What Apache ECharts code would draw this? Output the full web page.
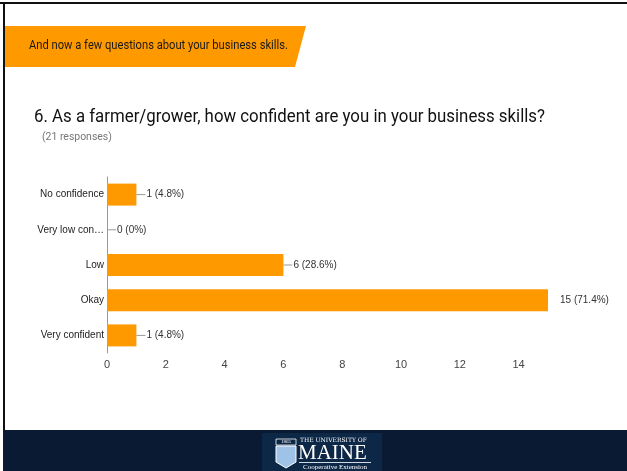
<!DOCTYPE html>
<html><head><meta charset="utf-8">
<script src="https://cdn.jsdelivr.net/npm/echarts@6/dist/echarts.min.js"></script>
<style>html,body{margin:0;padding:0;background:#fff}#c{width:627px;height:471px}</style>
</head><body><div id="c"></div>
<script>
var categories = ['No confidence', 'Very low confidence', 'Low', 'Okay', 'Very confident'];
var counts = [1, 0, 6, 15, 1];
var percents = ['4.8%', '0%', '28.6%', '71.4%', '4.8%'];
var xTicks = [0, 2, 4, 6, 8, 10, 12, 14];
var bannerText = 'And now a few questions about your business skills.';
var titleText = '6. As a farmer/grower, how confident are you in your business skills?';
var subText = '(21 responses)';

var chart = echarts.init(document.getElementById('c'), null, {renderer: 'canvas'});
var maxCount = Math.max.apply(null, counts);
var seriesData = counts.map(function (v, i) {
  var item = {value: v};
  if (v === maxCount) {
    item.label = {distance: 11, formatter: function (p) { return '{t|' + p.value + ' (' + percents[p.dataIndex] + ')}'; }};
  }
  return item;
});
var option = {
  animation: false,
  grid: {left: 107, right: 79, top: 177, bottom: 118, containLabel: false},
  xAxis: {
    type: 'value', min: 0, max: 15, interval: 2,
    axisLine: {show: false}, axisTick: {show: false}, splitLine: {show: false},
    axisLabel: {showMaxLabel: false, color: '#444', fontSize: 11, fontFamily: 'Liberation Sans', margin: 6}
  },
  yAxis: {
    type: 'category', data: categories, inverse: true,
    axisLine: {show: true, lineStyle: {color: '#999', width: 1}},
    axisTick: {show: false},
    axisLabel: {color: '#222', fontSize: 10, fontFamily: 'Liberation Sans', margin: 3, width: 69, overflow: 'truncate', ellipsis: '…'}
  },
  series: [{
    type: 'bar', data: seriesData, barWidth: 22,
    itemStyle: {color: '#FF9900'},
    label: {
      show: true, position: 'right', distance: 0,
      formatter: function (p) { return '{l|}{t|' + p.value + ' (' + percents[p.dataIndex] + ')}'; },
      rich: {
        l: {width: 9, height: 1, backgroundColor: '#999'},
        t: {color: '#333', fontSize: 10, fontFamily: 'Liberation Sans', padding: [0, 0, 0, 1]}
      }
    }
  }],
  graphic: [
    {type: 'rect', shape: {x: 0, y: 2, width: 627, height: 2}, style: {fill: '#111'}},
    {type: 'rect', shape: {x: 3, y: 2, width: 2, height: 430}, style: {fill: '#111'}},
    {type: 'polygon', shape: {points: [[5, 26], [306, 26], [295, 67], [5, 67]]}, style: {fill: '#FF9900'}},
    {type: 'text', x: 29, y: 46, scaleX: 0.86, style: {text: bannerText, fill: '#1a1a1a', font: '13px Roboto', verticalAlign: 'middle'}},
    {type: 'text', x: 34, y: 117, scaleX: 0.935, style: {text: titleText, fill: '#111', font: '18px Roboto', verticalAlign: 'middle'}},
    {type: 'text', x: 42, y: 137, scaleX: 0.95, style: {text: subText, fill: '#777', font: '11px Roboto', verticalAlign: 'middle'}},
    {type: 'rect', shape: {x: 3, y: 430, width: 624, height: 41}, style: {fill: '#0a1a33'}},
    {type: 'rect', shape: {x: 262, y: 433, width: 120, height: 38}, style: {fill: '#0d2747'}},
    {type: 'polygon', shape: {points: [[276, 446], [296, 446], [296, 462], [286, 468], [276, 462]]}, style: {fill: '#9fc3e6', stroke: '#fff', lineWidth: 1}},
    {type: 'rect', shape: {x: 276, y: 439, width: 20, height: 6}, style: {fill: '#0d2747', stroke: '#fff', lineWidth: 0.8}},
    {type: 'text', x: 286, y: 442, style: {text: '1865', fill: '#fff', font: '5px serif', align: 'center', verticalAlign: 'middle'}},
    {type: 'text', x: 300, y: 440, style: {text: 'THE UNIVERSITY OF', fill: '#fff', font: '6px "DejaVu Serif"', verticalAlign: 'middle'}},
    {type: 'text', x: 298, y: 453, style: {text: 'MAINE', fill: '#fff', font: '21px "Liberation Serif"', verticalAlign: 'middle'}},
    {type: 'rect', shape: {x: 299, y: 462, width: 72, height: 1}, style: {fill: '#cfd8e3'}},
    {type: 'text', x: 335, y: 467, style: {text: 'Cooperative Extension', fill: '#fff', font: '7px "Liberation Serif"', align: 'center', verticalAlign: 'middle'}}
  ]
};
chart.setOption(option);
</script>
</body></html>
